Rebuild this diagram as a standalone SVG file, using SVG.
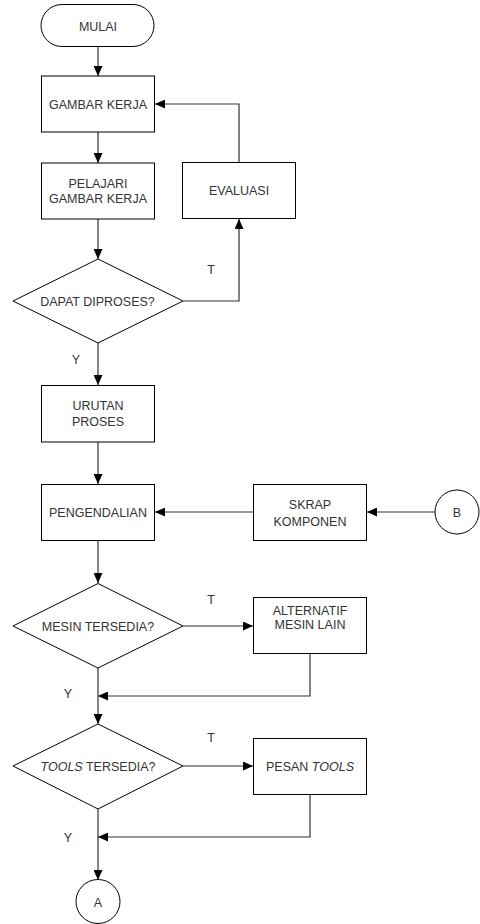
<svg xmlns="http://www.w3.org/2000/svg" width="480" height="924" viewBox="0 0 480 924">
<style>
.s{fill:#fff;stroke:#000;stroke-width:1}
.t{font-family:"Liberation Sans",Arial,sans-serif;font-size:12.5px;fill:#333;text-anchor:middle}
.c{fill:none;stroke:#333;stroke-width:1.2}
</style>
<defs>
<marker id="ah" markerUnits="userSpaceOnUse" markerWidth="10" markerHeight="9" refX="10" refY="4.5" orient="auto">
<path d="M0,0 L10,4.5 L0,9 z" fill="#000"/>
</marker>
</defs>
<rect width="480" height="924" fill="#fff"/>
<g id="connectors">
<path class="c" d="M98,47 V76" marker-end="url(#ah)"/>
<path class="c" d="M98,132 V163" marker-end="url(#ah)"/>
<path class="c" d="M239,162 V104 H155" marker-end="url(#ah)"/>
<path class="c" d="M98,219 V259" marker-end="url(#ah)"/>
<path class="c" d="M183,301 H239 V219" marker-end="url(#ah)"/>
<path class="c" d="M98,343 V385" marker-end="url(#ah)"/>
<path class="c" d="M98,442 V484" marker-end="url(#ah)"/>
<path class="c" d="M435,512 H367" marker-end="url(#ah)"/>
<path class="c" d="M253,512 H155" marker-end="url(#ah)"/>
<path class="c" d="M98,541 V583" marker-end="url(#ah)"/>
<path class="c" d="M183,626 H253" marker-end="url(#ah)"/>
<path class="c" d="M310,654 V696 H98" marker-end="url(#ah)"/>
<path class="c" d="M98,668 V724" marker-end="url(#ah)"/>
<path class="c" d="M183,766 H253" marker-end="url(#ah)"/>
<path class="c" d="M310,795 V837 H98" marker-end="url(#ah)"/>
<path class="c" d="M98,809 V880" marker-end="url(#ah)"/>
<text class="t" x="211" y="273.5">T</text>
<text class="t" x="76" y="363.5">Y</text>
<text class="t" x="211" y="603.5">T</text>
<text class="t" x="68" y="697.5">Y</text>
<text class="t" x="211" y="741.5">T</text>
<text class="t" x="68" y="841.5">Y</text>
</g>
<g id="mulai">
<rect class="s" x="41" y="4.5" width="113" height="42" rx="21"/>
<text class="t" x="98" y="30.5">MULAI</text>
</g>
<g id="gambar-kerja">
<rect class="s" x="41.5" y="76" width="113" height="56"/>
<text class="t" x="98" y="108.5">GAMBAR KERJA</text>
</g>
<g id="pelajari">
<rect class="s" x="41.5" y="163" width="113" height="56"/>
<text class="t" x="98" y="187.5">PELAJARI</text>
<text class="t" x="98" y="203">GAMBAR KERJA</text>
</g>
<g id="evaluasi">
<rect class="s" x="182.5" y="162.5" width="113" height="56"/>
<text class="t" x="239" y="194.5">EVALUASI</text>
</g>
<g id="dapat-diproses">
<path class="s" d="M98,259 L183,301 L98,343 L13,301 Z"/>
<text class="t" x="97.5" y="305.5">DAPAT DIPROSES?</text>
</g>
<g id="urutan-proses">
<rect class="s" x="41.5" y="385.5" width="113" height="56.5"/>
<text class="t" x="98" y="409.5">URUTAN</text>
<text class="t" x="98" y="425.5">PROSES</text>
</g>
<g id="pengendalian">
<rect class="s" x="41.5" y="484.5" width="113" height="56"/>
<text class="t" x="98" y="516.5">PENGENDALIAN</text>
</g>
<g id="skrap-komponen">
<rect class="s" x="253.5" y="484.5" width="113" height="56"/>
<text class="t" x="310" y="508.5">SKRAP</text>
<text class="t" x="310" y="525.5">KOMPONEN</text>
</g>
<g id="b">
<circle class="s" cx="457" cy="512" r="22"/>
<text class="t" x="457" y="516.5">B</text>
</g>
<g id="mesin-tersedia">
<path class="s" d="M98,583.5 L183,626 L98,668 L13,626 Z"/>
<text class="t" x="98" y="630.5">MESIN TERSEDIA?</text>
</g>
<g id="alternatif">
<rect class="s" x="253.5" y="597.5" width="113" height="56"/>
<text class="t" x="310" y="614.5">ALTERNATIF</text>
<text class="t" x="310" y="629">MESIN LAIN</text>
</g>
<g id="tools-tersedia">
<path class="s" d="M98,724 L183,766 L98,809 L13,766 Z"/>
<text class="t" x="98" y="770.5"><tspan font-style="italic">TOOLS</tspan> TERSEDIA?</text>
</g>
<g id="pesan-tools">
<rect class="s" x="253.5" y="738.5" width="113" height="56"/>
<text class="t" x="310" y="770.5">PESAN <tspan font-style="italic">TOOLS</tspan></text>
</g>
<g id="a">
<circle class="s" cx="98" cy="901.5" r="22"/>
<text class="t" x="98" y="906.5">A</text>
</g>
</svg>
